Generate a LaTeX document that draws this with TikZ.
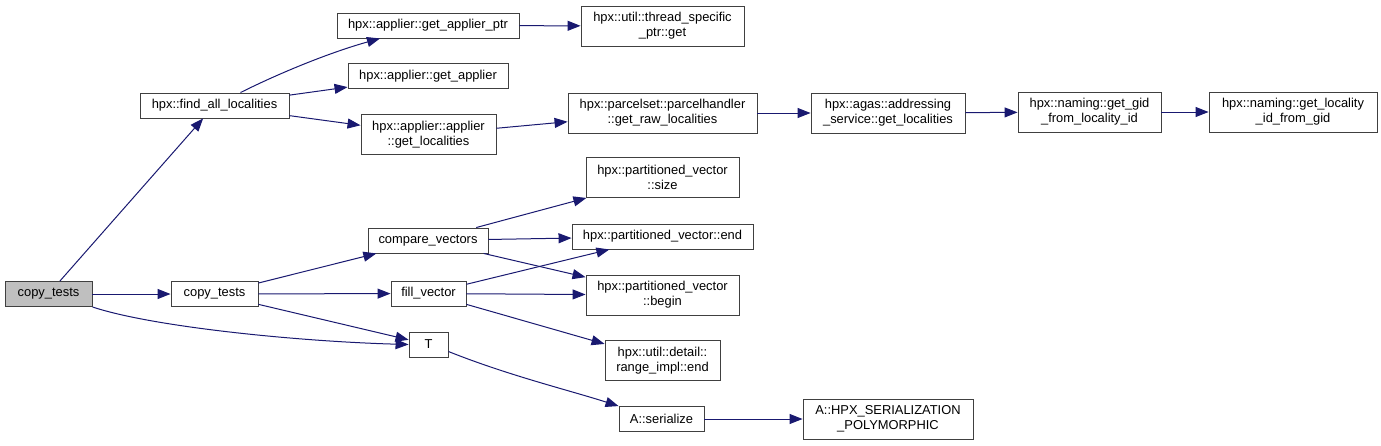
\documentclass[tikz,border=0pt]{standalone}
\usepackage{fontspec}
\setmainfont{Liberation Sans}
\usetikzlibrary{arrows.meta}
\definecolor{edgeblue}{RGB}{25,25,112}
\definecolor{rootgray}{RGB}{191,191,191}

\begin{document}
\begin{tikzpicture}[x=1pt, y=-1pt,
        fn/.style={draw=black!75, line width=0.9pt, fill=white, inner sep=0pt,
            minimum height=25pt, align=center, font=\fontsize{12.9}{15}\selectfont},
        fn2/.style={fn, minimum height=40pt},
        root/.style={fn, fill=rootgray},
        call/.style={draw=edgeblue, line width=1pt, -{Triangle[length=13pt, width=10pt]}}]
    \useasboundingbox (0,0) rectangle (1381,445);

    % caller
    \node[root, minimum width=87pt] (main) at (48.5,294) {copy\_tests};

    % find_all_localities branch
    \node[fn, minimum width=149pt] (findall) at (214.5,105.5) {hpx::find\_all\_localities};
    \node[fn, minimum width=182pt] (applierptr) at (428,25.5) {hpx::applier::get\_applier\_ptr};
    \node[fn, minimum width=160pt] (getapplier) at (428,76) {hpx::applier::get\_applier};
    \node[fn2, minimum width=135pt] (applierloc) at (428.5,134.5) {hpx::applier::applier\\::get\_localities};
    \node[fn2, minimum width=163pt] (threadptr) at (662.5,26) {hpx::util::thread\_specific\\\_ptr::get};
    \node[fn2, minimum width=189pt] (rawloc) at (662.5,113) {hpx::parcelset::parcelhandler\\::get\_raw\_localities};
    \node[fn2, minimum width=154pt] (agasloc) at (888,113) {hpx::agas::addressing\\\_service::get\_localities};
    \node[fn2, minimum width=143pt] (gidfrom) at (1089.5,112) {hpx::naming::get\_gid\\\_from\_locality\_id};
    \node[fn2, minimum width=168pt] (locfrom) at (1293,112) {hpx::naming::get\_locality\\\_id\_from\_gid};

    % copy_tests branch
    \node[fn, minimum width=87pt] (copytests) at (214.5,294) {copy\_tests};
    \node[fn, minimum width=120pt] (compare) at (428,240.5) {compare\_vectors};
    \node[fn, minimum width=75pt] (fillvec) at (428.5,293.5) {fill\_vector};
    \node[fn, minimum width=39pt] (T) at (428.5,344.5) {T};
    \node[fn2, minimum width=153pt] (pvsize) at (662.5,177.5) {hpx::partitioned\_vector\\::size};
    \node[fn, minimum width=181pt] (pvend) at (662.5,236.5) {hpx::partitioned\_vector::end};
    \node[fn2, minimum width=153pt] (pvbegin) at (662.5,295) {hpx::partitioned\_vector\\::begin};
    \node[fn2, minimum width=115pt] (rangeend) at (662.5,360.5) {hpx::util::detail::\\range\_impl::end};
    \node[fn, minimum width=85pt] (serialize) at (661.5,419) {A::serialize};
    \node[fn2, minimum width=170pt] (hpxser) at (888,419) {A::HPX\_SERIALIZATION\\\_POLYMORPHIC};

    % calls
    \draw[call] (main) -- (findall);
    \draw[call] (main) -- (copytests);
    \draw[call] (main.south east) .. controls +(60,20) and +(-110,-3) .. (T.west);
    \draw[call] ([xshift=26pt]findall.north) .. controls +(40,-20) and +(-50,14) .. ([xshift=-48pt]applierptr.south);
    \draw[call] (findall) -- (getapplier);
    \draw[call] (findall) -- (applierloc);
    \draw[call] (applierptr) -- (threadptr);
    \draw[call] (applierloc) -- (rawloc);
    \draw[call] (rawloc) -- (agasloc);
    \draw[call] (agasloc) -- (gidfrom);
    \draw[call] (gidfrom) -- (locfrom);
    \draw[call] (copytests) -- (compare);
    \draw[call] (copytests) -- (fillvec);
    \draw[call] (copytests) -- (T);
    \draw[call] (compare) -- (pvsize);
    \draw[call] (compare) -- (pvend);
    \draw[call] (compare) -- (pvbegin);
    \draw[call] (fillvec) -- (pvend);
    \draw[call] (fillvec) -- (pvbegin);
    \draw[call] (fillvec) -- (rangeend);
    \draw[call] ([yshift=-7pt]T.east) .. controls +(60,24) and +(-50,-16) .. (serialize.north west);
    \draw[call] (serialize) -- (hpxser);
\end{tikzpicture}
\end{document}
